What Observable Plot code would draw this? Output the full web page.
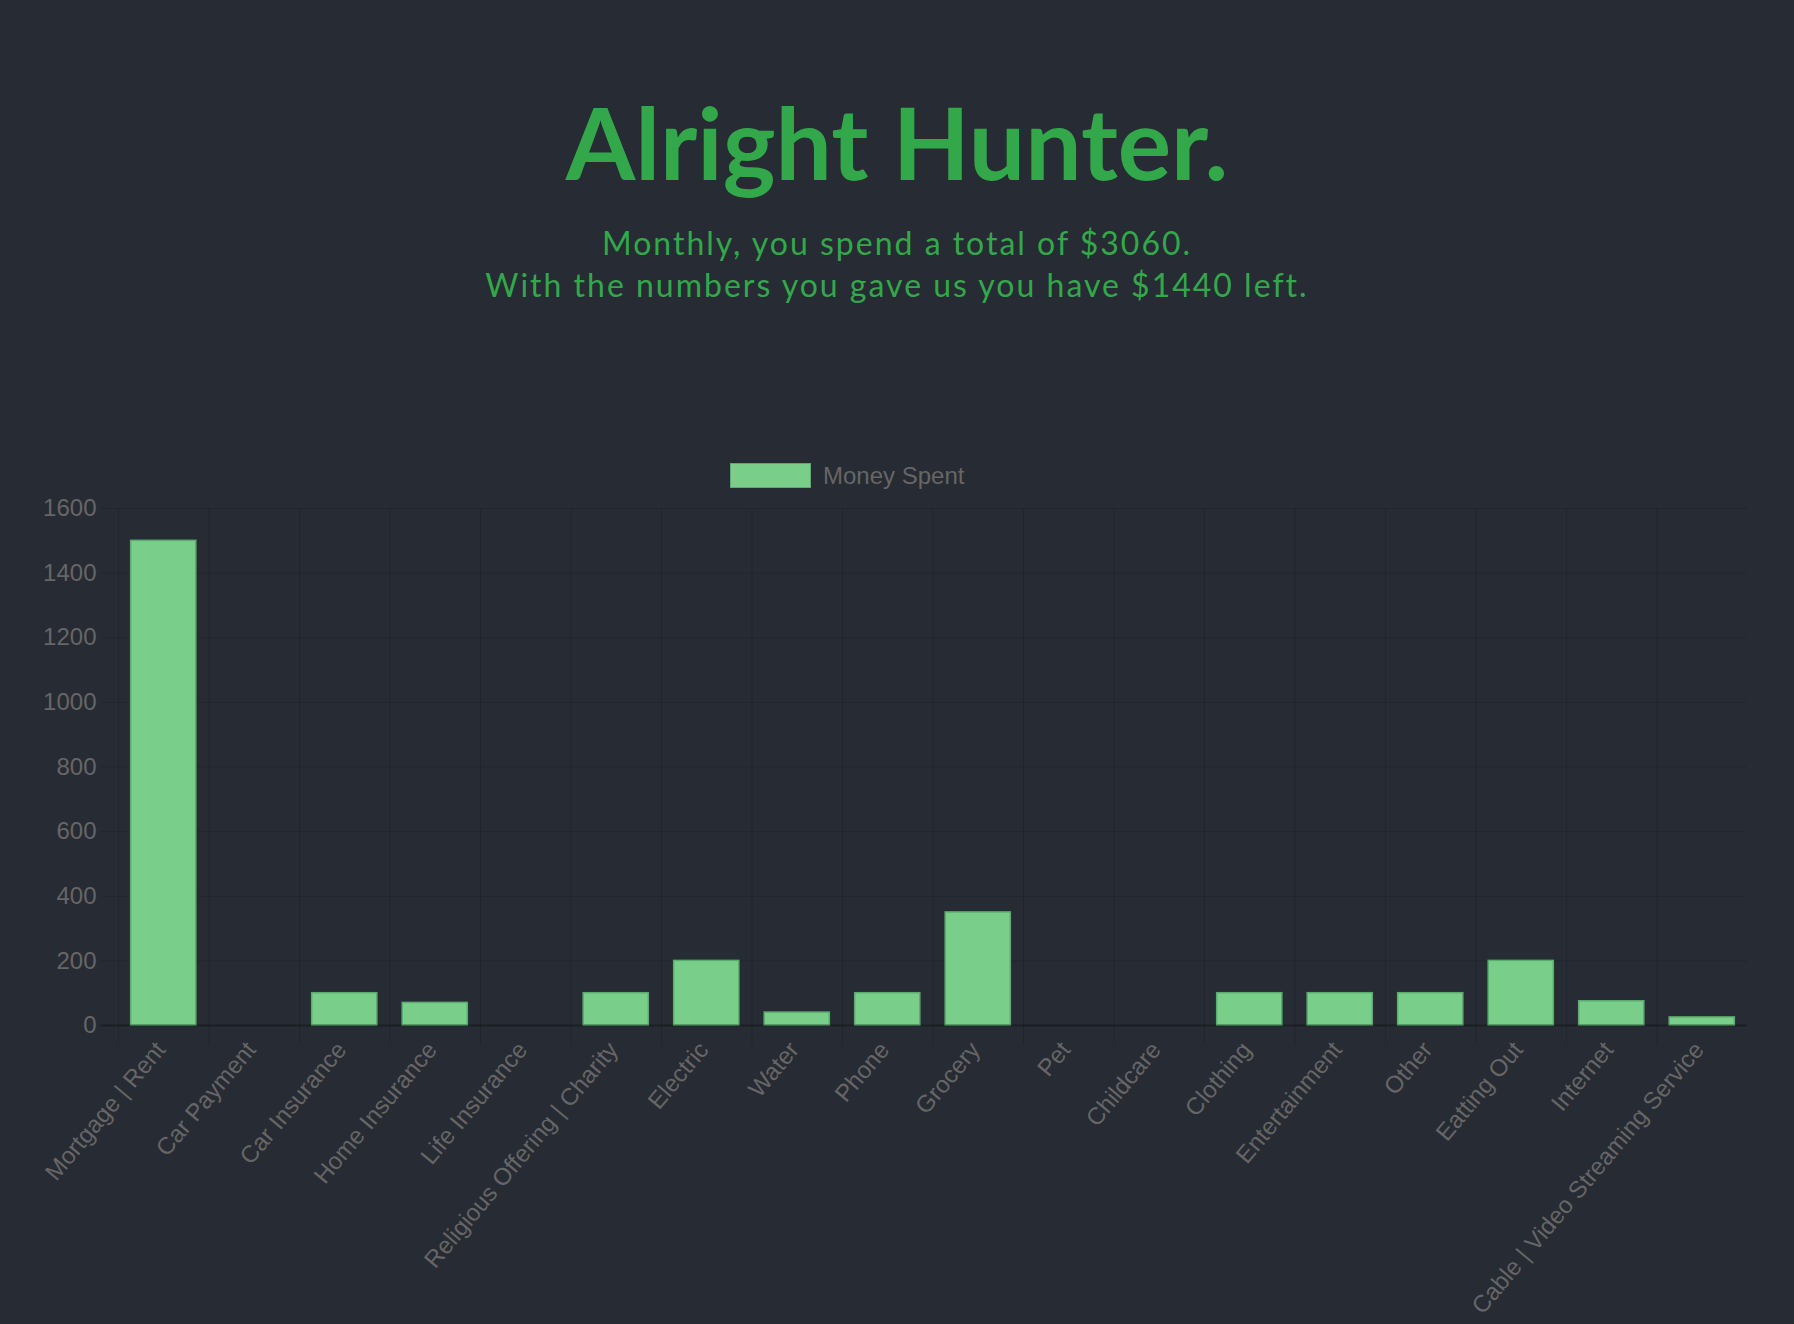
<!DOCTYPE html>
<html>
<head>
<meta charset="utf-8">
<script src="https://cdn.jsdelivr.net/npm/d3@7"></script>
<script src="https://cdn.jsdelivr.net/npm/@observablehq/plot@0.6"></script>
<style>
  html, body { margin: 0; padding: 0; background: #272b33; }
  #page { position: relative; width: 1794px; height: 1324px; overflow: hidden; background: #272b33; }
  #title { position: absolute; left: 0; top: 91px; width: 1794px; text-align: center;
    font-family: Lato, "Open Sans", sans-serif; font-weight: 700; font-size: 100px; line-height: 100px; color: #33a84b; }
  #subtitle { position: absolute; left: 0; top: 222px; width: 1794px; text-align: center;
    font-family: Lato, "Open Sans", sans-serif; font-weight: 400; font-size: 32px; line-height: 42px; letter-spacing: 2px; color: #33a84b; }
  #legend { position: absolute; top: 463px; left: 0; width: 1794px; height: 26px;
    font-family: "Liberation Sans", Arial, Helvetica, sans-serif; font-size: 24px; color: #666; }
  #legend .swatch { position: absolute; left: 730px; top: 0; width: 79px; height: 23px; background: #79cf8a; border: 1.5px solid #5cab6f; }
  #legend .label { position: absolute; left: 823px; top: 0; line-height: 26px; }
  #chart { position: absolute; left: 0; top: 490px; }
</style>
</head>
<body>
<div id="page">
  <div id="title"></div>
  <div id="subtitle"></div>
  <div id="legend"><div class="swatch"></div><div class="label"></div></div>
  <div id="chart"></div>
</div>
<script>
const titleText = "Alright Hunter.";
const subtitleLines = ["Monthly, you spend a total of $3060.", "With the numbers you gave us you have $1440 left."];
const seriesName = "Money Spent";
const categories = ["Mortgage | Rent", "Car Payment", "Car Insurance", "Home Insurance", "Life Insurance",
  "Religious Offering | Charity", "Electric", "Water", "Phone", "Grocery", "Pet", "Childcare",
  "Clothing", "Entertainment", "Other", "Eatting Out", "Internet", "Cable | Video Streaming Service"];
const values = [1500, 0, 100, 70, 0, 100, 200, 40, 100, 350, 0, 0, 100, 100, 100, 200, 75, 25];
const yTicks = [0, 200, 400, 600, 800, 1000, 1200, 1400, 1600];

document.getElementById("title").textContent = titleText;
document.getElementById("subtitle").innerHTML = subtitleLines.map(s => `<div>${s}</div>`).join("");
document.querySelector("#legend .label").textContent = seriesName;

const data = categories.map((c, i) => ({category: c, value: values[i]}));
const width = 1794, height = 834, mL = 118, mR = 47, mT = 18, mB = 299;
const step = (width - mL - mR) / categories.length;
const gridColor = "rgba(0,0,0,0.12)";

const chart = Plot.plot({
  width, height, marginLeft: mL, marginRight: mR, marginTop: mT, marginBottom: mB,
  style: {background: "transparent", fontFamily: "'Liberation Sans', Arial, Helvetica, sans-serif"},
  x: {domain: categories, paddingInner: 0.28, paddingOuter: 0.14, round: false, label: null},
  y: {domain: [0, 1600], label: null},
  marks: [
    Plot.ruleY(yTicks.filter(d => d !== 0), {stroke: gridColor, insetLeft: -18}),
    Plot.ruleX(categories, {x: d => d, dx: -step / 2, stroke: gridColor, insetBottom: -20}),
    Plot.barY(data, {x: "category", y: "value", fill: "#79cf8a", stroke: "#5cab6f", strokeWidth: 1.5}),
    Plot.ruleY([0], {stroke: "rgba(0,0,0,0.28)", strokeWidth: 2, insetLeft: -18}),
    Plot.axisY(yTicks, {tickSize: 0, tickPadding: 22, fontSize: 24, fill: "#666", tickFormat: d => String(d), label: null}),
    Plot.axisX({tickSize: 0, tickRotate: -50, tickPadding: 20, dx: -3, fontSize: 24, fill: "#666", textAnchor: "end", label: null})
  ]
});
document.getElementById("chart").appendChild(chart);
</script>
</body>
</html>
